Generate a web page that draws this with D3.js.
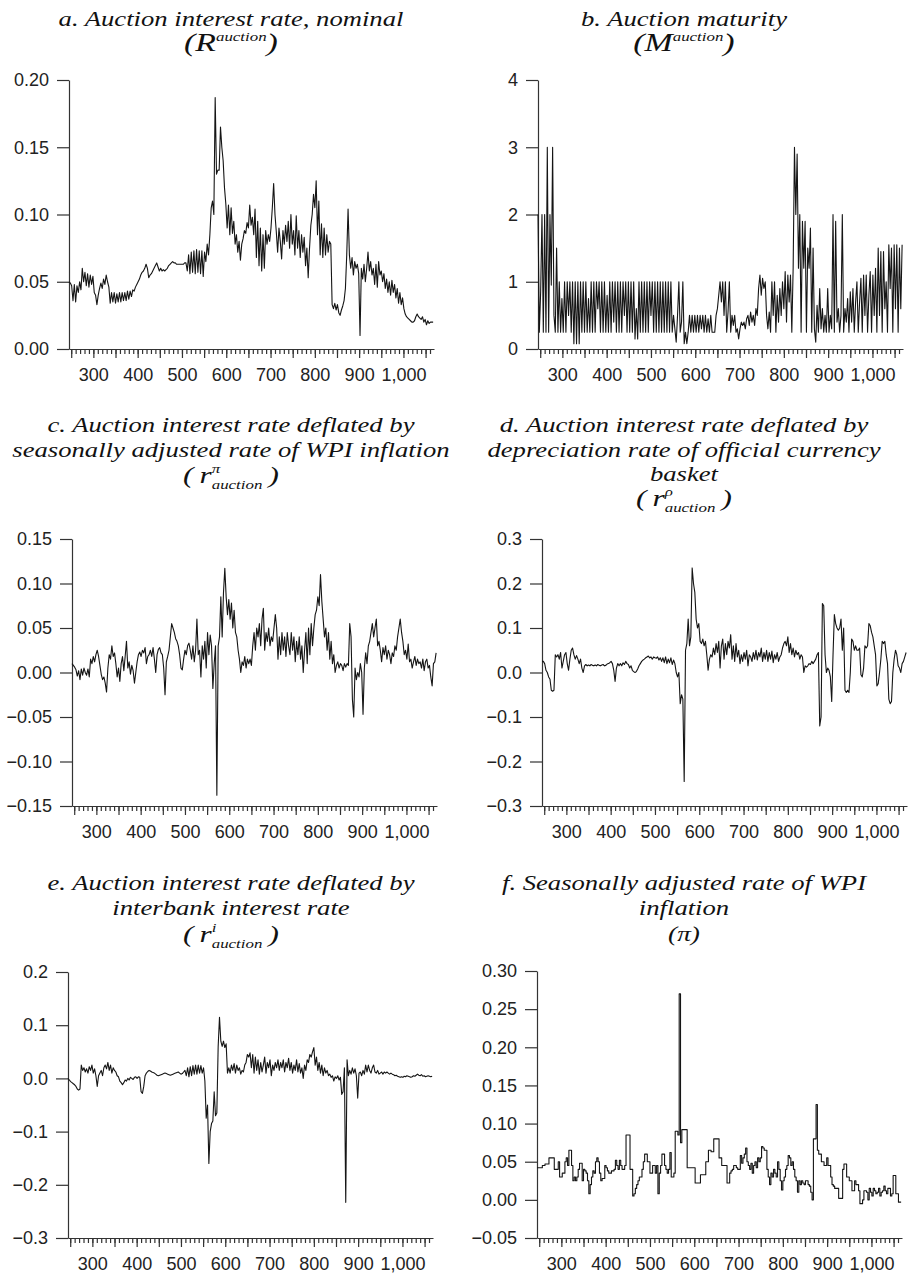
<!DOCTYPE html>
<html>
<head>
<meta charset="utf-8">
<style>
body { margin: 0; background: #fff; }
.axis text { font-family: "Liberation Sans", Arial, sans-serif; font-size: 18px; fill: #222; }
.axis path, .axis line { stroke: #333; stroke-width: 1.2; }
.series { fill: none; stroke: #151515; stroke-width: 1.1; stroke-linejoin: round; }
</style>
<script src="https://cdn.jsdelivr.net/npm/d3@7/dist/d3.min.js"></script>
</head>
<body>
<svg width="909" height="1276"></svg>
<script>

// auction week number, every third week
var weeks = d3.range(245, 1068, 3);

// a. nominal auction rate
var rAuction = [
  0.050,0.049,0.047,0.036,0.048,0.035,0.047,0.042,0.050,0.044,
  0.060,0.050,0.057,0.047,0.056,0.046,0.055,0.048,0.054,0.042,
  0.040,0.033,0.040,0.045,0.049,0.045,0.052,0.048,0.055,0.050,
  0.046,0.034,0.042,0.035,0.042,0.034,0.041,0.035,0.042,0.035,
  0.042,0.036,0.042,0.036,0.043,0.037,0.043,0.039,0.044,0.043,
  0.046,0.048,0.050,0.052,0.055,0.057,0.058,0.060,0.063,0.060,
  0.053,0.055,0.056,0.058,0.060,0.062,0.064,0.061,0.058,0.060,
  0.058,0.059,0.058,0.059,0.060,0.062,0.063,0.064,0.065,0.064,
  0.064,0.063,0.063,0.063,0.063,0.063,0.063,0.064,0.064,0.058,
  0.070,0.056,0.072,0.057,0.073,0.056,0.074,0.057,0.073,0.056,
  0.073,0.054,0.072,0.065,0.078,0.070,0.085,0.105,0.110,0.100,
  0.187,0.130,0.133,0.133,0.165,0.150,0.140,0.120,0.108,0.090,
  0.107,0.085,0.105,0.086,0.095,0.078,0.085,0.072,0.080,0.066,
  0.078,0.082,0.088,0.086,0.094,0.090,0.107,0.092,0.098,0.085,
  0.104,0.068,0.095,0.062,0.090,0.058,0.085,0.060,0.088,0.078,
  0.085,0.080,0.090,0.105,0.123,0.100,0.087,0.072,0.090,0.080,
  0.067,0.088,0.078,0.092,0.080,0.095,0.075,0.100,0.078,0.088,
  0.070,0.099,0.075,0.088,0.068,0.085,0.072,0.083,0.062,0.075,
  0.053,0.075,0.092,0.100,0.115,0.105,0.125,0.085,0.110,0.070,
  0.093,0.068,0.090,0.070,0.085,0.072,0.080,0.078,0.033,0.030,
  0.034,0.029,0.033,0.027,0.025,0.029,0.032,0.036,0.045,0.070,
  0.104,0.070,0.060,0.068,0.055,0.065,0.060,0.063,0.056,0.010,
  0.060,0.052,0.063,0.050,0.060,0.072,0.058,0.065,0.055,0.060,
  0.048,0.063,0.046,0.065,0.055,0.058,0.050,0.056,0.045,0.052,
  0.042,0.050,0.040,0.051,0.042,0.048,0.038,0.045,0.034,0.042,
  0.033,0.038,0.030,0.026,0.024,0.023,0.022,0.021,0.020,0.020,
  0.021,0.024,0.026,0.024,0.023,0.022,0.024,0.020,0.022,0.018,
  0.021,0.019,0.020,0.020,0.020
];

// b. auction maturity
var mAuction = [
  2.0,0.25,0.85,2.0,0.25,2.0,0.25,3.0,0.25,2.0,
  0.95,3.0,0.5,0.25,1.5,0.25,1.0,0.25,0.75,0.25,
  1.0,0.25,1.0,0.5,1.0,0.25,1.0,0.08,1.0,0.08,
  1.0,0.08,1.0,0.25,1.0,0.25,1.0,0.25,0.75,0.25,
  1.0,0.25,1.0,0.25,1.0,0.6,1.0,0.25,1.0,0.25,
  1.0,0.25,0.8,0.25,1.0,0.25,1.0,0.4,1.0,0.25,
  1.0,0.25,1.0,0.25,1.0,0.5,1.0,0.25,1.0,0.25,
  1.0,0.25,1.0,0.15,0.6,0.15,1.0,0.25,1.0,0.25,
  1.0,0.25,1.0,0.25,1.0,0.5,1.0,0.25,1.0,0.25,
  1.0,0.25,1.0,0.25,1.0,0.25,1.0,0.25,1.0,0.25,
  1.0,0.25,0.5,0.3,0.1,0.5,1.0,0.25,0.4,1.0,
  0.08,0.25,0.08,0.25,0.5,0.25,0.5,0.25,0.5,0.25,
  0.5,0.25,0.5,0.3,0.5,0.25,0.5,0.25,0.45,0.25,
  0.5,0.25,0.25,0.25,0.5,0.6,0.8,1.0,0.7,1.0,
  0.5,1.0,0.25,0.55,1.0,0.25,0.5,0.35,0.5,0.25,
  0.3,0.15,0.3,0.4,0.35,0.4,0.3,0.45,0.5,0.35,
  0.55,0.4,0.5,0.35,0.6,0.5,0.9,1.1,0.8,1.05,
  0.9,1.0,0.5,0.3,0.55,0.25,1.0,0.5,1.0,0.25,
  0.8,0.4,0.9,0.5,1.0,0.6,1.15,0.4,1.1,0.7,
  1.1,0.25,1.2,3.0,2.0,2.9,1.2,2.0,0.25,1.9,
  1.2,1.9,0.25,1.5,1.2,1.8,0.25,1.5,0.3,0.1,
  0.65,0.25,0.9,0.3,0.6,0.25,0.5,0.25,0.9,0.25,
  0.5,0.3,2.0,0.25,1.9,0.4,0.6,0.25,0.5,2.0,
  0.25,0.6,0.4,0.75,0.25,0.85,0.4,0.9,0.25,0.7,
  1.0,0.25,0.7,1.05,0.25,1.1,0.5,1.1,0.25,0.8,
  1.15,0.25,1.1,0.5,1.2,0.25,1.5,0.5,1.45,0.25,
  1.45,0.6,1.0,0.25,1.55,0.9,1.5,0.25,1.55,0.6,
  1.55,0.25,1.5,0.6,1.55
];

// c. deflated by WPI inflation
var rPi = [
  0.010,0.008,0.006,0.003,-0.004,0.002,-0.008,0.004,-0.003,0.005,
  0.000,-0.003,0.004,-0.005,0.015,0.010,0.018,0.012,0.020,0.025,
  0.018,0.008,-0.002,-0.008,-0.005,-0.012,-0.022,0.005,0.020,0.015,
  0.030,0.018,0.022,0.010,-0.005,0.005,-0.010,0.010,0.018,0.002,
  0.018,0.035,0.005,0.012,-0.002,0.008,0.002,-0.012,0.000,0.012,
  0.020,0.023,0.018,0.025,0.022,0.028,0.010,0.018,0.020,0.025,
  0.018,0.028,0.015,0.000,0.020,0.026,0.028,0.022,0.020,0.005,
  -0.025,0.012,0.018,0.025,0.040,0.055,0.050,0.045,0.038,0.035,
  0.030,0.020,0.005,0.003,0.015,0.025,0.020,0.030,0.033,0.025,
  0.015,0.030,0.012,0.025,0.060,0.020,0.025,-0.005,0.030,0.015,
  0.035,0.005,0.045,0.020,0.042,0.030,-0.018,0.010,0.030,-0.138,
  0.030,0.040,0.085,0.040,0.090,0.117,0.085,0.065,0.082,0.060,
  0.078,0.050,0.070,0.045,0.040,0.025,0.015,0.000,0.012,0.008,
  0.018,0.005,0.015,0.010,0.015,0.008,0.030,0.045,0.025,0.050,
  0.040,0.055,0.030,0.060,0.072,0.025,0.045,0.035,0.050,0.030,
  0.040,0.035,0.050,0.065,0.050,0.015,0.040,0.020,0.045,0.025,
  0.040,0.018,0.045,0.030,0.020,0.045,0.025,0.040,0.012,0.035,
  0.020,0.040,0.015,0.030,0.000,0.025,0.045,0.010,0.050,0.020,
  0.055,0.030,0.050,0.065,0.070,0.085,0.075,0.110,0.080,0.060,
  0.040,0.050,0.025,0.045,0.015,0.035,0.010,0.020,0.000,0.008,
  0.012,0.005,0.010,0.008,0.002,0.010,0.006,0.010,0.008,0.055,
  0.040,-0.030,-0.050,0.005,-0.008,0.000,-0.005,0.010,0.000,-0.047,
  0.005,0.022,0.010,0.030,0.035,0.045,0.055,0.040,0.050,0.060,
  0.030,0.035,0.025,0.012,0.028,0.020,0.030,0.015,0.025,0.020,
  0.010,0.022,0.018,0.030,0.025,0.040,0.050,0.060,0.045,0.035,
  0.020,0.025,0.015,0.032,0.012,0.015,0.005,0.012,0.018,0.008,
  0.015,0.010,0.012,0.005,0.015,0.002,0.012,0.015,0.005,0.008,
  -0.005,-0.015,0.010,0.012,0.022
];

// d. deflated by currency basket depreciation
var rRho = [
  0.025,0.025,0.020,0.005,0.000,-0.010,-0.015,-0.040,-0.042,-0.040,
  0.040,0.035,0.040,0.030,0.045,0.010,0.025,0.040,0.045,0.020,
  0.005,0.030,0.050,0.055,0.040,0.030,0.038,0.030,0.020,0.030,
  0.010,0.000,0.015,0.018,0.015,0.017,0.015,0.018,0.016,0.015,
  0.017,0.015,0.018,0.016,0.015,0.017,0.018,0.015,0.016,0.019,
  0.020,0.022,0.025,0.020,0.005,-0.020,0.010,0.020,0.015,0.020,
  0.015,0.022,0.018,0.025,0.020,0.018,0.010,0.015,0.005,0.002,
  0.000,0.002,0.008,0.015,0.020,0.025,0.028,0.030,0.033,0.035,
  0.037,0.033,0.035,0.030,0.035,0.033,0.032,0.035,0.028,0.033,
  0.025,0.033,0.022,0.035,0.020,0.030,0.022,0.033,0.018,0.028,
  0.020,0.000,-0.010,0.000,-0.070,-0.050,-0.060,-0.245,0.050,0.065,
  0.120,0.060,0.080,0.235,0.200,0.180,0.120,0.100,0.110,0.070,
  0.065,0.075,0.060,0.070,0.040,0.005,0.030,0.040,0.035,0.055,
  0.040,0.065,0.045,0.070,0.010,0.060,0.075,0.030,0.065,0.040,
  0.070,0.055,0.085,0.030,0.060,0.025,0.065,0.035,0.050,0.020,
  0.040,0.025,0.045,0.030,0.050,0.015,0.040,0.035,0.025,0.045,
  0.030,0.050,0.028,0.045,0.035,0.055,0.025,0.045,0.030,0.050,
  0.025,0.045,0.030,0.048,0.022,0.040,0.030,0.045,0.025,0.035,
  0.040,0.055,0.065,0.070,0.060,0.080,0.045,0.065,0.040,0.055,
  0.035,0.050,0.040,0.045,0.030,0.040,0.035,0.000,0.015,0.012,
  0.015,0.020,0.018,0.025,0.020,0.025,0.030,0.040,0.045,-0.120,
  -0.100,0.155,0.150,0.040,0.000,0.010,0.005,-0.010,-0.065,0.040,
  0.130,0.110,0.100,0.095,0.100,0.120,0.050,0.100,-0.040,-0.045,
  -0.040,-0.045,0.000,0.075,0.070,0.050,0.060,0.050,0.050,0.055,
  -0.005,-0.010,0.010,0.060,0.055,0.060,0.110,0.105,0.090,0.080,
  0.060,0.040,-0.030,-0.025,0.000,0.030,0.070,0.065,0.070,0.040,
  0.020,-0.060,-0.070,-0.065,0.000,0.030,0.050,0.040,0.015,0.010,
  0.000,0.020,0.025,0.035,0.045
];

// e. deflated by interbank rate
var rI = [
  0.000,-0.003,-0.006,-0.008,-0.010,-0.012,-0.015,-0.020,-0.022,-0.020,
  0.025,0.015,0.020,0.012,0.018,0.010,0.022,0.015,0.025,0.010,
  0.018,0.005,-0.015,0.005,0.010,0.015,0.005,0.020,0.025,0.018,
  0.030,0.015,0.025,0.010,0.020,0.015,0.012,0.005,0.003,-0.005,
  -0.008,-0.012,-0.008,-0.003,-0.005,0.000,-0.003,0.002,0.000,-0.002,
  0.002,0.003,0.000,0.003,0.002,-0.025,-0.028,-0.015,0.005,0.010,
  0.013,0.015,0.014,0.012,0.011,0.010,0.008,0.006,0.005,0.006,
  0.007,0.008,0.009,0.010,0.009,0.008,0.007,0.006,0.007,0.008,
  0.009,0.010,0.011,0.012,0.010,0.008,0.009,0.012,0.015,0.005,
  0.020,0.003,0.022,0.005,0.024,0.008,0.025,0.008,0.025,0.010,
  0.024,0.010,0.020,-0.005,-0.075,-0.050,-0.160,-0.100,-0.085,-0.080,
  -0.025,-0.070,-0.065,0.060,0.115,0.070,0.060,0.070,0.058,0.065,
  0.010,0.020,0.010,0.025,0.015,0.028,0.010,0.025,0.015,0.020,
  0.008,0.015,0.012,0.025,0.030,0.045,0.040,0.048,0.020,0.045,
  0.010,0.040,0.015,0.035,0.008,0.030,0.012,0.025,0.040,0.010,
  0.030,0.020,0.035,0.005,0.025,0.015,0.030,0.020,0.035,0.015,
  0.030,0.020,0.035,0.012,0.030,0.020,0.038,0.015,0.030,0.010,
  0.025,0.015,0.035,0.012,0.028,0.010,0.020,0.000,0.025,0.015,
  0.035,0.030,0.045,0.040,0.050,0.058,0.025,0.040,0.015,0.030,
  0.010,0.025,0.005,0.020,0.010,0.015,0.005,0.008,0.002,0.005,
  -0.005,0.003,0.000,0.005,-0.003,0.002,-0.030,-0.025,0.020,-0.233,
  0.035,0.005,0.015,0.008,0.020,0.010,0.018,0.005,-0.037,0.010,
  0.012,0.005,0.015,0.008,0.025,0.012,0.025,0.015,0.010,0.020,
  0.025,0.012,0.010,0.015,0.008,0.010,0.012,0.008,0.012,0.010,
  0.012,0.010,0.008,0.010,0.008,0.007,0.005,0.006,0.004,0.003,
  0.002,0.003,0.002,0.004,0.003,0.005,0.004,0.003,0.002,0.003,
  0.005,0.004,0.006,0.008,0.006,0.005,0.007,0.004,0.005,0.003,
  0.004,0.005,0.004,0.003,0.004
];

// f. seasonally adjusted WPI inflation (monthly, held between weeks)
var piInfl = [
  0.042,0.042,0.042,0.042,0.045,0.045,0.047,0.047,0.047,0.055,
  0.055,0.055,0.055,0.040,0.040,0.040,0.050,0.030,0.030,0.035,
  0.035,0.050,0.055,0.045,0.065,0.065,0.045,0.025,0.030,0.025,
  0.030,0.040,0.048,0.048,0.025,0.040,0.038,0.035,0.025,0.008,
  0.020,0.030,0.038,0.035,0.050,0.055,0.050,0.035,0.025,0.028,
  0.028,0.045,0.042,0.038,0.035,0.035,0.038,0.038,0.040,0.052,
  0.045,0.040,0.052,0.045,0.040,0.040,0.045,0.085,0.085,0.085,
  0.040,0.040,0.005,0.008,0.015,0.020,0.025,0.030,0.030,0.040,
  0.050,0.060,0.060,0.050,0.050,0.035,0.035,0.045,0.045,0.035,
  0.045,0.008,0.035,0.045,0.060,0.060,0.045,0.040,0.035,0.040,
  0.062,0.030,0.030,0.035,0.090,0.090,0.085,0.270,0.075,0.092,
  0.092,0.092,0.092,0.042,0.042,0.042,0.042,0.042,0.042,0.022,
  0.022,0.022,0.022,0.033,0.033,0.033,0.033,0.050,0.050,0.065,
  0.065,0.063,0.063,0.080,0.080,0.080,0.080,0.055,0.055,0.045,
  0.045,0.045,0.045,0.022,0.022,0.035,0.038,0.040,0.045,0.045,
  0.042,0.040,0.040,0.058,0.048,0.055,0.060,0.068,0.050,0.045,
  0.040,0.048,0.035,0.045,0.050,0.042,0.055,0.050,0.055,0.070,
  0.068,0.065,0.065,0.040,0.030,0.020,0.035,0.030,0.040,0.035,
  0.030,0.050,0.040,0.025,0.013,0.025,0.030,0.040,0.045,0.058,
  0.055,0.045,0.050,0.040,0.030,0.025,0.010,0.025,0.020,0.025,
  0.022,0.020,0.025,0.025,0.020,0.018,0.010,0.000,0.080,0.080,
  0.125,0.065,0.060,0.060,0.050,0.050,0.045,0.045,0.055,0.045,
  0.045,0.030,0.020,0.018,0.015,0.015,0.015,0.002,0.002,0.002,
  0.040,0.047,0.047,0.030,0.030,0.025,0.025,0.012,0.012,0.025,
  0.020,0.020,0.012,-0.005,-0.005,0.000,0.012,0.012,0.010,0.000,
  0.015,0.010,0.005,0.015,0.012,0.008,0.010,0.015,0.005,0.010,
  0.012,0.018,0.012,0.008,0.015,0.015,0.005,0.008,0.032,0.032,
  0.008,0.008,-0.003,-0.003,-0.003
];

// tick values
var xLabelTicks = [300, 400, 500, 600, 700, 800, 900, 1000];
var yTicksA = [0, 0.05, 0.10, 0.15, 0.20];
var yTicksB = [0, 1, 2, 3, 4];
var yTicksC = [-0.15, -0.10, -0.05, 0, 0.05, 0.10, 0.15];
var yTicksD = [-0.3, -0.2, -0.1, 0, 0.1, 0.2, 0.3];
var yTicksE = [-0.3, -0.2, -0.1, 0, 0.1, 0.2];
var yTicksF = [-0.05, 0, 0.05, 0.10, 0.15, 0.20, 0.25, 0.30];

var svg = d3.select("svg");
var plotW = 365;
var serif = "'Liberation Serif', 'DejaVu Serif', 'Times New Roman', Times, serif";
var stretch = 1.3;   // the printed titles are set wide

var panels = [
  {vals: rAuction, ticks: yTicksA, fmt: ".2f", x0: 69, top: 80, bottom: 349, cx: 231,
   lines: ["a. Auction interest rate, nominal"], ys: [26], math: {base: "R", sup: "auction", y: 51, size: 26}},
  {vals: mAuction, ticks: yTicksB, fmt: "d", x0: 538, top: 80, bottom: 349, cx: 684,
   lines: ["b. Auction maturity"], ys: [26], math: {base: "M", sup: "auction", y: 51, size: 26}},
  {vals: rPi, ticks: yTicksC, fmt: ".2f", x0: 72, top: 539, bottom: 806, cx: 231,
   lines: ["c. Auction interest rate deflated by", "seasonally adjusted rate of WPI inflation"], ys: [432, 457],
   math: {base: "r", sup: "\u03c0", sub: "auction", spaced: true, y: 483, size: 24}},
  {vals: rRho, ticks: yTicksD, fmt: ".1f", x0: 542, top: 539, bottom: 806, cx: 684,
   lines: ["d. Auction interest rate deflated by", "depreciation rate of official currency", "basket"], ys: [432, 457, 481],
   math: {base: "r", sup: "\u03c1", sub: "auction", spaced: true, y: 506, size: 24}},
  {vals: rI, ticks: yTicksE, fmt: ".1f", x0: 68, top: 972, bottom: 1238, cx: 231,
   lines: ["e. Auction interest rate deflated by", "interbank interest rate"], ys: [890, 915],
   math: {base: "r", sup: "i", sub: "auction", spaced: true, y: 942, size: 24}},
  {vals: piInfl, ticks: yTicksF, fmt: ".2f", x0: 537, top: 971, bottom: 1238, cx: 684, step: true,
   lines: ["f. Seasonally adjusted rate of WPI", "inflation"], ys: [890, 915],
   math: {plain: "(\u03c0)", y: 941, size: 21}}
];

panels.forEach(function(p) {
  var x = d3.scaleLinear().domain([245, 1069]).range([p.x0, p.x0 + plotW]);
  var y = d3.scaleLinear().domain(d3.extent(p.ticks)).range([p.bottom, p.top]);
  var g = svg.append("g");

  // x axis: minor ticks every 10, longer every 50, labels every 100
  g.append("g").attr("class", "axis")
      .attr("transform", "translate(0," + p.bottom + ")")
      .call(d3.axisBottom(x).tickValues(d3.range(250, 1061, 10)).tickSize(5).tickSizeOuter(0).tickFormat(""));
  g.append("g").attr("class", "axis")
      .attr("transform", "translate(0," + p.bottom + ")")
      .call(d3.axisBottom(x).tickValues(d3.range(250, 1061, 50)).tickSize(9).tickSizeOuter(0).tickFormat(""))
      .select(".domain").remove();
  g.append("g").attr("class", "axis")
      .attr("transform", "translate(0," + p.bottom + ")")
      .call(d3.axisBottom(x).tickValues(xLabelTicks).tickSize(0).tickPadding(19).tickFormat(d3.format(",")))
      .select(".domain").remove();

  g.append("g").attr("class", "axis")
      .attr("transform", "translate(" + p.x0 + ",0)")
      .call(d3.axisLeft(y).tickValues(p.ticks).tickSize(12).tickSizeOuter(0).tickPadding(8).tickFormat(d3.format(p.fmt)));

  var pts = p.vals.map(function(v, i) { return [weeks[i], v]; });
  var line = d3.line()
      .x(function(d) { return x(d[0]); })
      .y(function(d) { return y(d[1]); })
      .curve(p.step ? d3.curveStepAfter : d3.curveLinear);
  g.append("path").attr("class", "series").attr("d", line(pts));

  // title
  p.lines.forEach(function(s, i) {
    titleText(g)
      .attr("transform", "translate(" + p.cx + "," + p.ys[i] + ") scale(" + stretch + ",1)")
      .attr("text-anchor", "middle")
      .text(s);
  });
  drawMath(g, p.cx, p.math);
});

function titleText(g) {
  return g.append("text")
    .style("font-family", serif)
    .style("font-style", "italic")
    .style("font-size", "20.5px")
    .style("fill", "#111");
}

function drawMath(g, cx, m) {
  var t = titleText(g).style("font-size", m.size + "px");
  if (m.plain) {
    t.attr("text-anchor", "middle")
      .attr("transform", "translate(" + cx + "," + m.y + ") scale(" + stretch + ",1)")
      .text(m.plain);
    return;
  }
  t.append("tspan").text(m.spaced ? "(\u2009" : "(");
  t.append("tspan").text(m.base);
  var sup = t.append("tspan").attr("dy", -10).style("font-size", "13px").text(m.sup);
  var back = 10;
  if (m.sub) {
    var w = sup.node().getComputedTextLength();
    t.append("tspan").attr("dx", -w).attr("dy", 16).style("font-size", "13px").text(m.sub);
    back = -6;
  }
  t.append("tspan").attr("dy", back).text(m.spaced ? "\u2009)" : ")");
  var bb = t.node().getBBox();
  t.attr("transform", "translate(" + cx + "," + m.y + ") scale(" + stretch + ",1) translate(" + (-bb.x - bb.width / 2) + ",0)");
}

</script>
</body>
</html>
